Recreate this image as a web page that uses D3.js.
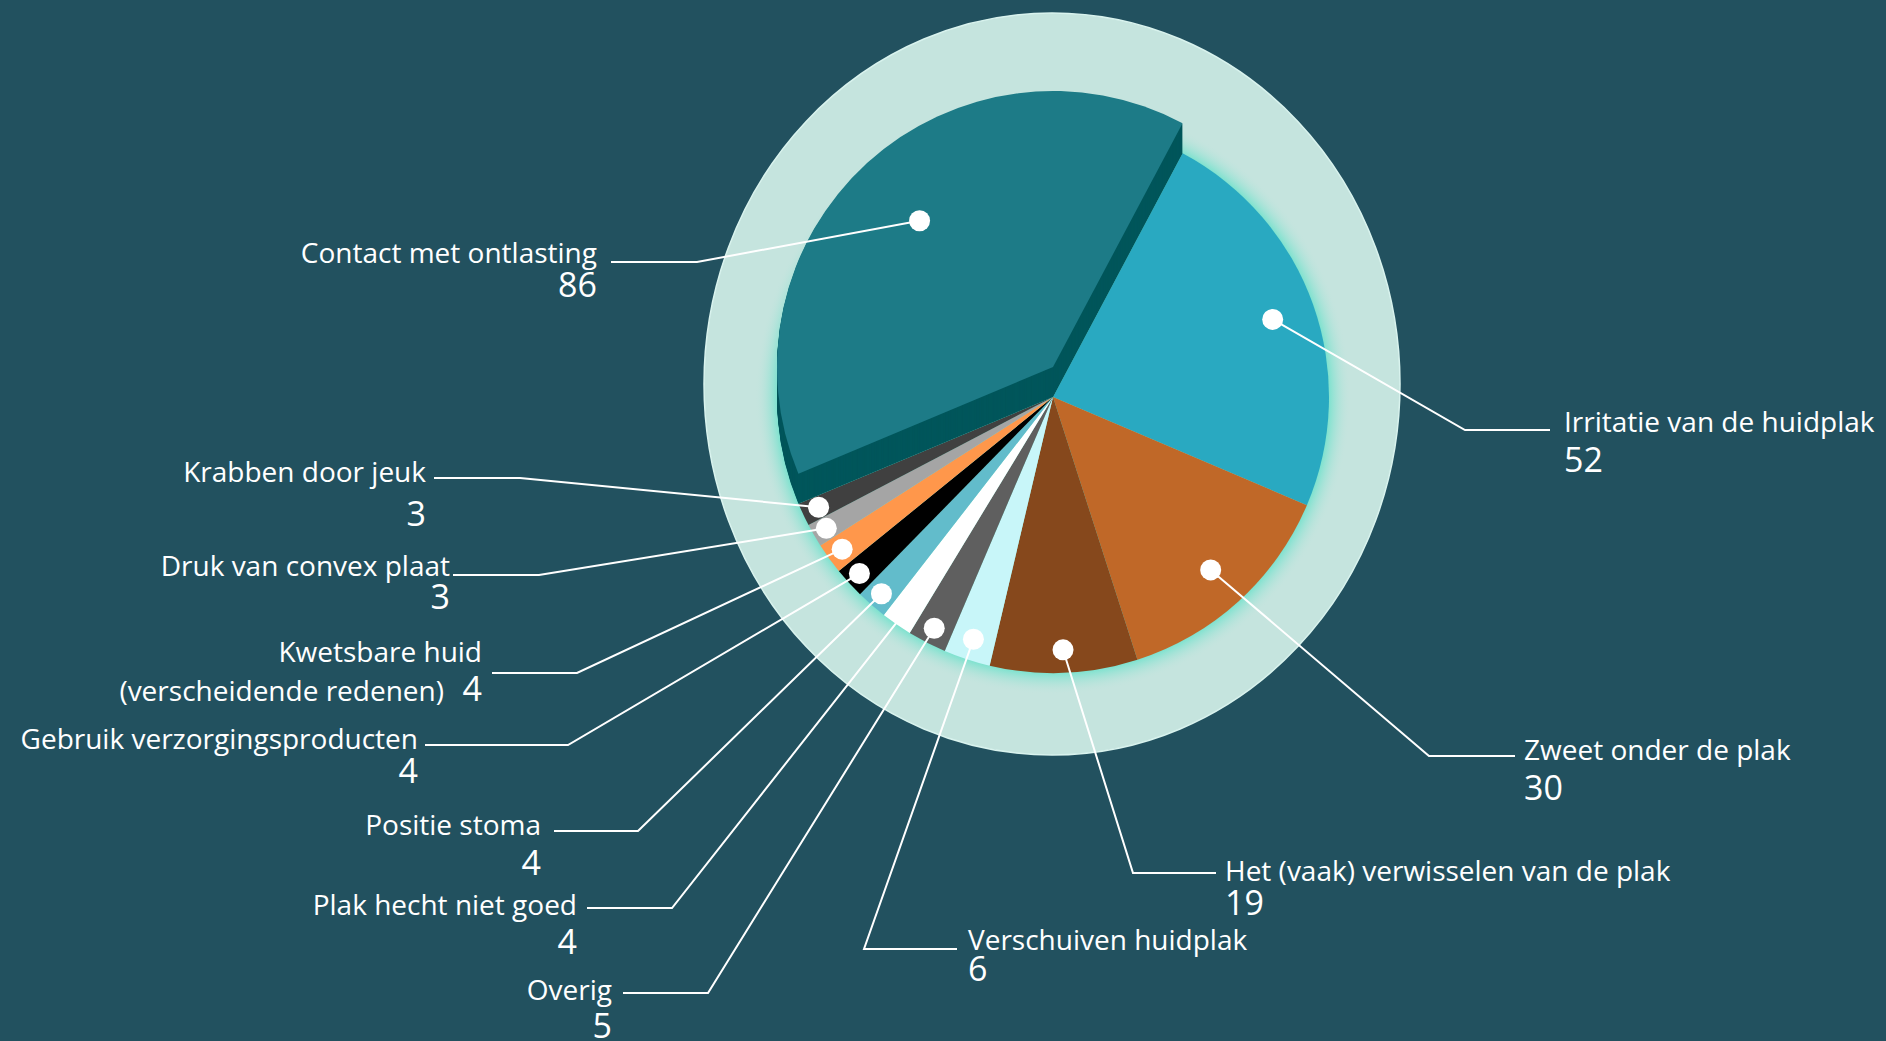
<!DOCTYPE html>
<html>
<head>
<meta charset="utf-8">
<script src="https://cdn.jsdelivr.net/npm/d3@7"></script>
<style>
  html, body { margin: 0; padding: 0; background: #22515f; }
  svg { display: block; }
  text { font-family: "Open Sans", "Noto Sans", sans-serif; fill: #ffffff; }
</style>
</head>
<body>
<div id="chart"></div>
<script>
// slices, clockwise starting at the top-right edge of the big slice
const categories = [
  "Irritatie van de huidplak",
  "Zweet onder de plak",
  "Het (vaak) verwisselen van de plak",
  "Verschuiven huidplak",
  "Overig",
  "Plak hecht niet goed",
  "Positie stoma",
  "Gebruik verzorgingsproducten",
  "Kwetsbare huid\n(verscheidende redenen)",
  "Druk van convex plaat",
  "Krabben door jeuk",
  "Contact met ontlasting"
];
const values = [52, 30, 19, 6, 5, 4, 4, 4, 4, 3, 3, 86];
const colors = ["#29a9c1", "#c06828", "#86481c", "#c8f6f9", "#5f5f5f", "#ffffff",
                "#62bccb", "#000000", "#ff974b", "#a5a5a5", "#404040", "#1d7b87"];

// the slice that is lifted out of the pie
const liftedCategory = "Contact met ontlasting";

// label placement (annotation layout): elbow of the leader, end of the
// horizontal part, text anchor, baselines and the radius of the dot
const labelLayout = [
  { side: "right", ex: 1465, ey: 430, lx: 1550, tx: 1564, ty: 432, ny: 472, dotR: 233 },
  { side: "right", ex: 1429, ey: 756, lx: 1515, tx: 1524, ty: 760, ny: 800, dotR: 234 },
  { side: "right", ex: 1133, ey: 873, lx: 1216, tx: 1225, ty: 881, ny: 915, dotR: 253 },
  { side: "right", ex: 864,  ey: 949, lx: 957,  tx: 968,  ty: 950, ny: 981, dotR: 255 },
  { side: "left",  ex: 708,  ey: 993, lx: 623,  tx: 612,  ty: 1000, ny: 1038, dotR: 260 },
  { side: "left",  ex: 672,  ey: 908, lx: 587,  tx: 577,  ty: 915, ny: 954, dotR: 260 },
  { side: "left",  ex: 638,  ey: 831, lx: 554,  tx: 541,  ty: 835, ny: 875, dotR: 261 },
  { side: "left",  ex: 568,  ey: 745, lx: 425,  tx: 418,  ty: 749, ny: 783, dotR: 262 },
  { side: "left",  ex: 577,  ey: 673, lx: 492,  tx: 482,  ty: 662, ny: 701, dotR: 260 },
  { side: "left",  ex: 539,  ey: 575, lx: 453,  tx: 450,  ty: 576, ny: 609, dotR: 262 },
  { side: "left",  ex: 520,  ey: 478, lx: 434,  tx: 426,  ty: 482, ny: 526, dotR: 259 },
  { side: "left",  ex: 697,  ey: 262, lx: 611,  tx: 597,  ty: 263, ny: 297, dotR: 198 }
];

const width = 1886, height = 1041;
const cx = 1053, cy = 397;
const radius = 276, lift = 30;
// backdrop ellipse, a bit taller than wide and sitting slightly higher
const ring = { cx: 1052, cy: 384, rx: 348, ry: 371 };
const startAngle = 28 * Math.PI / 180;

const data = categories.map((name, i) => ({
  name: name,
  value: values[i],
  color: colors[i],
  layout: labelLayout[i]
}));

const svg = d3.select("#chart")
  .append("svg")
  .attr("width", width)
  .attr("height", height);

svg.append("rect")
  .attr("width", width)
  .attr("height", height)
  .attr("fill", "#22515f");

const defs = svg.append("defs");
const glow = defs.append("radialGradient")
  .attr("id", "glow")
  .attr("gradientUnits", "userSpaceOnUse")
  .attr("cx", cx).attr("cy", cy).attr("r", radius + 22);
glow.append("stop").attr("offset", radius / (radius + 22)).attr("stop-color", "#7fe2cf").attr("stop-opacity", 1);
glow.append("stop").attr("offset", 1).attr("stop-color", "#c5e4de").attr("stop-opacity", 0);

const g = svg.append("g");

// light ring behind the pie
g.append("ellipse")
  .attr("cx", ring.cx).attr("cy", ring.cy)
  .attr("rx", ring.rx).attr("ry", ring.ry)
  .attr("fill", "#c5e4de")
  .attr("stroke", "#d9f3ee")
  .attr("stroke-width", 1.5);

g.append("circle")
  .attr("cx", cx).attr("cy", cy).attr("r", radius + 22)
  .attr("fill", "url(#glow)");

const pie = d3.pie()
  .sort(null)
  .value(d => d.value)
  .startAngle(startAngle)
  .endAngle(startAngle + 2 * Math.PI);

const arc = d3.arc().innerRadius(0).outerRadius(radius);
const arcs = pie(data);

const slices = g.append("g").attr("transform", `translate(${cx},${cy})`);

slices.selectAll("path.flat")
  .data(arcs.filter(d => d.data.name !== liftedCategory))
  .join("path")
  .attr("class", "flat")
  .attr("fill", d => d.data.color)
  .attr("d", arc);

// lifted slice: dark extrusion then the top face
const lifted = arcs.filter(d => d.data.name === liftedCategory);
const steps = d3.range(0, lift, 1);
slices.selectAll("path.side")
  .data(steps)
  .join("path")
  .attr("class", "side")
  .attr("fill", "#00565b")
  .attr("transform", s => `translate(0,${-s})`)
  .attr("d", () => arc(lifted[0]));

slices.selectAll("path.top")
  .data(lifted)
  .join("path")
  .attr("class", "top")
  .attr("fill", d => d.data.color)
  .attr("transform", `translate(0,${-lift})`)
  .attr("d", arc);

// dot positions
arcs.forEach(d => {
  const a = (d.startAngle + d.endAngle) / 2;
  const oy = d.data.name === liftedCategory ? -lift : 0;
  d.dx = cx + d.data.layout.dotR * Math.sin(a);
  d.dy = cy + oy - d.data.layout.dotR * Math.cos(a);
});

const line = d3.line();

g.append("g")
  .selectAll("path")
  .data(arcs)
  .join("path")
  .attr("fill", "none")
  .attr("stroke", "#ffffff")
  .attr("stroke-width", 2)
  .attr("d", d => line([[d.dx, d.dy], [d.data.layout.ex, d.data.layout.ey], [d.data.layout.lx, d.data.layout.ey]]));

g.append("g")
  .selectAll("circle")
  .data(arcs)
  .join("circle")
  .attr("cx", d => d.dx)
  .attr("cy", d => d.dy)
  .attr("r", 10.5)
  .attr("fill", "#ffffff");

// labels
const labels = g.append("g")
  .selectAll("g")
  .data(arcs)
  .join("g");

labels.each(function(d) {
  const el = d3.select(this);
  const L = d.data.layout;
  const anchor = L.side === "right" ? "start" : "end";
  const lines = d.data.name.split("\n");
  el.append("text")
    .attr("x", L.tx).attr("y", L.ty)
    .attr("text-anchor", anchor)
    .attr("font-size", 28)
    .text(lines[0]);
  if (lines.length > 1) {
    el.append("text")
      .attr("x", L.tx - 38).attr("y", L.ny)
      .attr("text-anchor", anchor)
      .attr("font-size", 28)
      .text(lines[1]);
  }
  el.append("text")
    .attr("x", L.tx).attr("y", L.ny)
    .attr("text-anchor", anchor)
    .attr("font-size", 34)
    .text(d.data.value);
});
</script>
</body>
</html>
